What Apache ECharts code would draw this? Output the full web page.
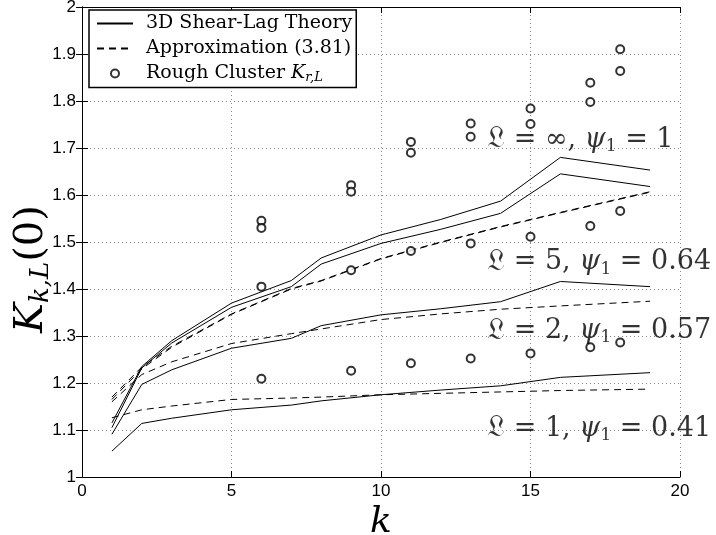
<!DOCTYPE html>
<html>
<head>
<meta charset="utf-8">
<script src="https://cdn.jsdelivr.net/npm/echarts@6/dist/echarts.min.js"></script>
<style>
  html, body { margin: 0; padding: 0; background: #fff; }
  #chart { width: 716px; height: 535px; }
</style>
</head>
<body>
<div id="chart"></div>
<script>
// k values where the curves were computed
const kValues = [1, 2, 3, 5, 7, 8, 10, 12, 14, 16, 19];

// 3D shear-lag theory (solid)
const theoryInf = [1.115, 1.235, 1.290, 1.370, 1.418, 1.466, 1.515, 1.548, 1.587, 1.680, 1.653];
const theory5   = [1.105, 1.232, 1.285, 1.361, 1.405, 1.453, 1.497, 1.527, 1.561, 1.645, 1.618];
const theory2   = [1.091, 1.197, 1.228, 1.274, 1.295, 1.322, 1.345, 1.358, 1.373, 1.416, 1.405];
const theory1   = [1.055, 1.114, 1.125, 1.143, 1.153, 1.162, 1.175, 1.185, 1.194, 1.212, 1.222];

// approximation (3.81) (dashed)
const approxInf = [1.170, 1.234, 1.278, 1.347, 1.401, 1.418, 1.465, 1.500, 1.533, 1.563, 1.607];
const approx5   = [1.165, 1.230, 1.276, 1.346, 1.400, 1.417, 1.464, 1.499, 1.532, 1.562, 1.606];
const approx2   = [1.160, 1.218, 1.245, 1.284, 1.305, 1.315, 1.335, 1.347, 1.357, 1.364, 1.374];
const approx1   = [1.126, 1.143, 1.151, 1.165, 1.168, 1.170, 1.175, 1.178, 1.181, 1.184, 1.187];

// rough cluster K_r,L (circles)
const clusterK = [6, 9, 11, 13, 15, 17, 18];
const clusterA = [1.545, 1.621, 1.713, 1.752, 1.784, 1.839, 1.910];
const clusterB = [1.530, 1.607, 1.690, 1.724, 1.751, 1.798, 1.864];
const clusterC = [1.405, 1.440, 1.481, 1.497, 1.511, 1.534, 1.566];
const clusterD = [1.209, 1.226, 1.242, 1.252, 1.263, 1.276, 1.286];

// curve annotations [k, value, text]
const notes = [
    [13.55, 1.718, '{f|𝔏} = ∞, {i|ψ}{s|1} = 1'],
    [13.55, 1.457, '{f|𝔏} = 5, {i|ψ}{s|1} = 0.64'],
    [13.55, 1.311, '{f|𝔏} = 2, {i|ψ}{s|1} = 0.57'],
    [13.55, 1.103, '{f|𝔏} = 1, {i|ψ}{s|1} = 0.41']
];

const SOLID = '3D Shear-Lag Theory';
const DASH = 'Approximation (3.81)';
const ROUGH = 'Rough Cluster K';

function pairs(xs, ys) {
    return xs.map((x, i) => [x, ys[i]]);
}

function lineSeries(name, ys, dashed) {
    return {
        name: name,
        type: 'line',
        data: pairs(kValues, ys),
        symbol: 'none',
        silent: true,
        lineStyle: { color: '#000', width: 1, type: dashed ? [7, 5] : 'solid' },
        itemStyle: { color: '#000' },
        z: 3
    };
}

const clusterData = [].concat(
    pairs(clusterK, clusterA), pairs(clusterK, clusterB),
    pairs(clusterK, clusterC), pairs(clusterK, clusterD)
);

const serif = 'DejaVu Serif';

var dom = document.getElementById('chart');
var myChart = echarts.init(dom, null, { renderer: 'canvas' });

const option = {
    animation: false,
    backgroundColor: '#fff',
    grid: { left: 82, right: 36, top: 7, bottom: 58, containLabel: false, outerBoundsMode: 'none' },
    legend: {
        data: [
            { name: SOLID, itemStyle: { opacity: 0 } },
            { name: DASH, itemStyle: { opacity: 0 } },
            { name: ROUGH, icon: 'emptyCircle' }
        ],
        orient: 'vertical',
        left: 89,
        top: 10,
        itemGap: 6,
        itemWidth: 36,
        itemHeight: 8,
        padding: [4, 4, 3, 7],
        backgroundColor: '#fff',
        borderColor: '#000',
        borderWidth: 1.5,
        borderRadius: 0,
        inactiveColor: '#000',
        textStyle: {
            fontFamily: serif,
            fontSize: 19,
            color: '#000',
            padding: [0, 0, 0, 8],
            rich: {
                i: { fontFamily: serif, fontStyle: 'italic', fontSize: 19, color: '#000' },
                s: { fontFamily: serif, fontStyle: 'italic', fontSize: 13, color: '#000', padding: [9, 0, 0, 0] }
            }
        },
        formatter: function (name) {
            return name === ROUGH ? 'Rough Cluster {i|K}{s|r,L}' : name;
        }
    },
    xAxis: [{
        type: 'value',
        min: 0,
        max: 20,
        interval: 5,
        name: 'k',
        nameLocation: 'middle',
        nameGap: 28,
        nameMoveOverlap: false,
        nameTextStyle: { fontFamily: serif, fontStyle: 'italic', fontSize: 36, color: '#000' },
        axisLine: { lineStyle: { color: '#000', width: 1 } },
        axisTick: { inside: true, length: 6, lineStyle: { color: '#000' } },
        axisLabel: { fontFamily: 'Liberation Sans', fontSize: 17, color: '#000', margin: 6 },
        splitLine: { show: true, lineStyle: { color: '#888', type: [1, 3] } }
    }, {
        type: 'value',
        position: 'top',
        min: 0,
        max: 20,
        interval: 5,
        axisLine: { lineStyle: { color: '#000', width: 1 } },
        axisTick: { inside: true, length: 6, lineStyle: { color: '#000' } },
        axisLabel: { show: false },
        splitLine: { show: false }
    }],
    yAxis: [{
        type: 'value',
        min: 1,
        max: 2,
        interval: 0.1,
        name: '{i|K}{s|k,L}{n|(0)}',
        nameLocation: 'middle',
        nameGap: 28,
        nameMoveOverlap: false,
        nameRotate: 90,
        nameTextStyle: {
            color: '#000',
            padding: [0, 54, 0, 0],
            rich: {
                i: { fontFamily: serif, fontStyle: 'italic', fontSize: 40, color: '#000' },
                s: { fontFamily: serif, fontStyle: 'italic', fontSize: 26, color: '#000', padding: [18, 0, 0, 0] },
                n: { fontFamily: serif, fontSize: 40, color: '#000' }
            }
        },
        axisLine: { show: true, lineStyle: { color: '#000', width: 1 } },
        axisTick: { show: true, inside: true, length: 6, lineStyle: { color: '#000' } },
        axisLabel: { fontFamily: 'Liberation Sans', fontSize: 17, color: '#000', margin: 6 },
        splitLine: { show: true, lineStyle: { color: '#888', type: [1, 3] } }
    }, {
        type: 'value',
        position: 'right',
        min: 1,
        max: 2,
        interval: 0.1,
        axisLine: { show: true, lineStyle: { color: '#000', width: 1 } },
        axisTick: { show: true, inside: true, length: 6, lineStyle: { color: '#000' } },
        axisLabel: { show: false },
        splitLine: { show: false }
    }],
    series: [
        lineSeries(SOLID, theoryInf, false),
        lineSeries(SOLID, theory5, false),
        lineSeries(SOLID, theory2, false),
        lineSeries(SOLID, theory1, false),
        lineSeries(DASH, approxInf, true),
        lineSeries(DASH, approx5, true),
        lineSeries(DASH, approx2, true),
        lineSeries(DASH, approx1, true),
        {
            name: ROUGH,
            type: 'scatter',
            data: clusterData,
            symbol: 'emptyCircle',
            symbolSize: 8,
            silent: true,
            itemStyle: { color: '#000', borderColor: '#000', borderWidth: 1 },
            z: 4
        },
        {
            name: 'notes',
            type: 'scatter',
            data: notes,
            symbolSize: 0,
            silent: true,
            z: 5,
            label: {
                show: true,
                position: 'right',
                distance: 0,
                color: '#000',
                fontFamily: serif,
                fontSize: 27,
                formatter: function (p) { return p.data[2]; },
                rich: {
                    f: { fontFamily: 'DejaVu Sans, Noto Sans, serif', fontSize: 30, color: '#000' },
                    i: { fontFamily: serif, fontStyle: 'italic', fontSize: 27, color: '#000' },
                    s: { fontFamily: serif, fontSize: 17, color: '#000', padding: [14, 0, 0, 0] }
                }
            }
        }
    ]
};

if (option && typeof option === 'object') {
    myChart.setOption(option);
}

window.addEventListener('resize', myChart.resize);
</script>
</body>
</html>
